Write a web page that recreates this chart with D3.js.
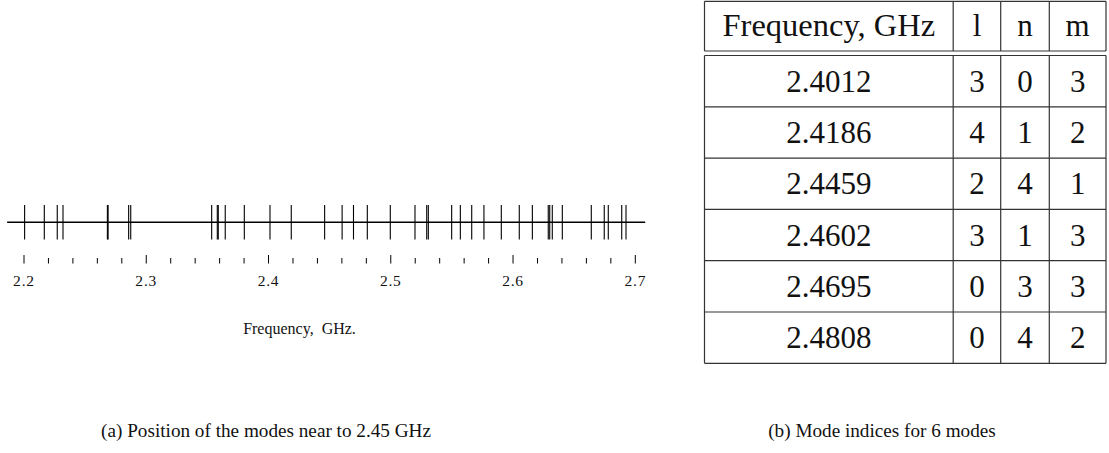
<!DOCTYPE html>
<html>
<head>
<meta charset="utf-8">
<script src="https://cdn.jsdelivr.net/npm/d3@7"></script>
<style>
  html, body { margin: 0; padding: 0; background: #fff; }
  svg { display: block; }
  text { font-family: "Liberation Serif", "Times New Roman", "DejaVu Serif", serif; fill: #111; }
</style>
</head>
<body>
<svg id="chart" width="1109" height="453"></svg>
<script>
// ---- data ----
const modeFreqs = [
  2.2005, 2.2166, 2.2272, 2.2319, 2.2682, 2.2688, 2.2856, 2.2873,
  2.3535, 2.3581, 2.3589, 2.3646, 2.3802, 2.4012, 2.4186, 2.4459,
  2.4602, 2.4695, 2.4808, 2.4996, 2.5198, 2.5294, 2.5307, 2.5498,
  2.5569, 2.5662, 2.5762, 2.5904, 2.6051, 2.6158, 2.6288, 2.6300,
  2.6321, 2.6403, 2.6640, 2.6746, 2.6779, 2.6889, 2.6924
];
const majorTicks = [2.2, 2.3, 2.4, 2.5, 2.6, 2.7];
const tickLabels = ["2.2", "2.3", "2.4", "2.5", "2.6", "2.7"];
const axisTitle = "Frequency,\u00a0\u00a0GHz.";

const tableHeader = ["Frequency, GHz", "l", "n", "m"];
const tableFreq = ["2.4012", "2.4186", "2.4459", "2.4602", "2.4695", "2.4808"];
const tableL = [3, 4, 2, 3, 0, 0];
const tableN = [0, 1, 4, 1, 3, 4];
const tableM = [3, 2, 1, 3, 3, 2];

const captionA = "(a) Position of the modes near to 2.45 GHz";
const captionB = "(b) Mode indices for 6 modes";

// ---- layout ----
const svg = d3.select("#chart");
const x = d3.scaleLinear().domain([2.2, 2.7]).range([24, 635.3]);

const lineY = 222.3;
const modeTop = 205, modeBot = 239.5;

const g = svg.append("g");

// main horizontal line
g.append("line")
  .attr("x1", x(2.1862)).attr("x2", x(2.7081))
  .attr("y1", lineY).attr("y2", lineY)
  .attr("stroke", "#000").attr("stroke-width", 1.4);

// mode lines
g.selectAll("line.mode").data(modeFreqs).join("line")
  .attr("class", "mode")
  .attr("x1", d => x(d)).attr("x2", d => x(d))
  .attr("y1", modeTop).attr("y2", modeBot)
  .attr("stroke", "#000").attr("stroke-width", 1.1);

// tick marks (no domain line)
const allTicks = d3.range(0, 26).map(i => +(2.2 + i * 0.02).toFixed(2));
const axisG = g.append("g").attr("transform", "translate(0,263.5)");
axisG.selectAll("line.tick").data(allTicks).join("line")
  .attr("class", "tick")
  .attr("x1", d => x(d)).attr("x2", d => x(d))
  .attr("y1", 0)
  .attr("y2", d => majorTicks.some(m => Math.abs(m - d) < 1e-6) ? -8.5 : -5.5)
  .attr("stroke", "#000").attr("stroke-width", 1);

axisG.selectAll("text.lab").data(majorTicks).join("text")
  .attr("class", "lab")
  .attr("x", d => x(d)).attr("y", 22)
  .attr("text-anchor", "middle")
  .attr("font-size", 15.5)
  .attr("letter-spacing", 0.8)
  .text((d, i) => tickLabels[i]);

g.append("text")
  .attr("x", 299.5).attr("y", 334)
  .attr("text-anchor", "middle")
  .attr("font-size", 16)
  .text(axisTitle);

// captions
svg.append("text").attr("x", 266).attr("y", 437)
  .attr("text-anchor", "middle").attr("font-size", 19.2).text(captionA);
svg.append("text").attr("x", 882).attr("y", 437)
  .attr("text-anchor", "middle").attr("font-size", 19.2).text(captionB);

// ---- table ----
const colEdges = [704.5, 953.2, 1000.7, 1049.3, 1106];
const headTop = 1.3, headBot = 51, bodyTop = 55.5, bodyBot = 363.3;
const rows = d3.scaleBand().domain(d3.range(tableFreq.length)).range([bodyTop, bodyBot]);
const tg = svg.append("g").attr("stroke", "#333").attr("stroke-width", 1.2);

const hLines = [headTop, headBot, ...d3.range(tableFreq.length).map(i => rows(i)), bodyBot];
tg.selectAll("line.h").data(hLines).join("line")
  .attr("x1", colEdges[0]).attr("x2", colEdges[4])
  .attr("y1", d => d).attr("y2", d => d);
colEdges.forEach(cx => {
  tg.append("line").attr("x1", cx).attr("x2", cx).attr("y1", headTop).attr("y2", headBot);
  tg.append("line").attr("x1", cx).attr("x2", cx).attr("y1", bodyTop).attr("y2", bodyBot);
});

const colCenter = i => (colEdges[i] + colEdges[i + 1]) / 2;
const fs = 31;
svg.selectAll("text.hdr").data(tableHeader).join("text")
  .attr("class", "hdr")
  .attr("x", (d, i) => colCenter(i)).attr("y", (headTop + headBot) / 2 + 10.3)
  .attr("text-anchor", "middle").attr("font-size", (d, i) => i === 0 ? 32.5 : fs)
  .text(d => d);

const tableRows = tableFreq.map((f, i) => [f, tableL[i], tableN[i], tableM[i]]);
tableRows.forEach((r, ri) => {
  svg.selectAll("text.r" + ri).data(r).join("text")
    .attr("class", "r" + ri)
    .attr("x", (d, i) => colCenter(i))
    .attr("y", rows(ri) + rows.bandwidth() / 2 + 10.5)
    .attr("text-anchor", "middle").attr("font-size", fs)
    .text(d => d);
});
</script>
</body>
</html>
